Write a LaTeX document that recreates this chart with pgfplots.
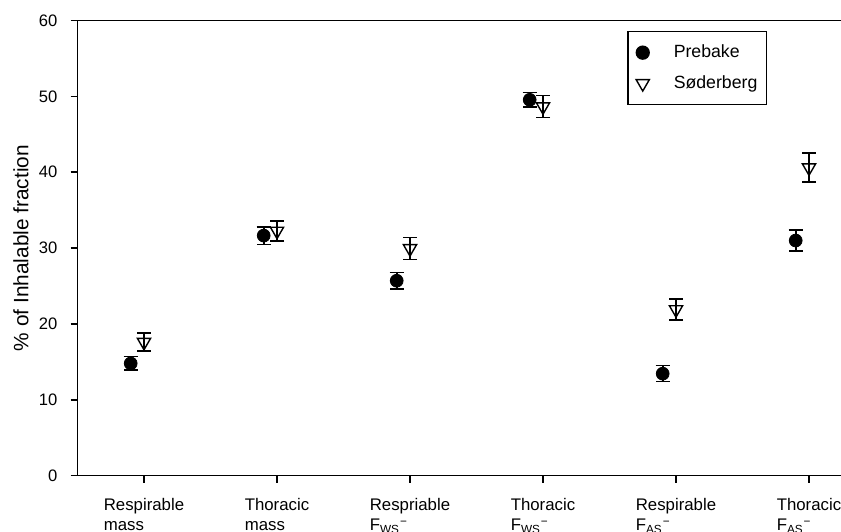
\documentclass[border=0pt]{standalone}
\usepackage{pgfplots}
\pgfplotsset{compat=1.18}
\usepackage{fontspec}
\setmainfont{Liberation Sans}

\pgfplotsset{
  markonly legend/.style={legend image code/.code={\path[draw=none,fill=none] (0pt,-3pt) rectangle (10pt,3pt); \draw[##1] plot coordinates {(5pt,0pt)};}}
}

\pgfplotstableread{
x y e
-0.1 14.8 0.9
0.9 31.65 1.15
1.9 25.7 1.1
2.9 49.55 0.95
3.9 13.45 1.05
4.9 31.0 1.4
}\prebake
\pgfplotstableread{
x y e
0 17.6 1.2
1 32.25 1.35
2 29.95 1.45
3 48.65 1.45
4 21.9 1.4
5 40.6 1.9
}\soder

\begin{document}
\begin{tikzpicture}
\useasboundingbox (0,0) rectangle (420.5pt,265.5pt);
\begin{axis}[
  at={(38.75pt,27.65pt)}, anchor=south west,
  scale only axis, width=399pt, height=227.6pt,
  xmin=-0.5, xmax=5.5, ymin=0, ymax=60,
  xtick={0,1,2,3,4,5},
  xticklabels={{Respirable\\mass},{Thoracic\\mass},{Respriable\\F\textsubscript{WS}\textsuperscript{−}},{Thoracic\\F\textsubscript{WS}\textsuperscript{−}},{Respirable\\F\textsubscript{AS}\textsuperscript{−}},{Thoracic\\F\textsubscript{AS}\textsuperscript{−}}},
  ytick={0,10,20,30,40,50,60},
  xtick pos=bottom, ytick pos=left, tick align=outside,
  major tick length=3.5pt,
  axis line style={line width=0.75pt},
  every tick/.style={black, line width=0.75pt},
  /pgf/number format/assume math mode=true,
  xticklabel style={align=left, font=\fontsize{8.4}{10}\selectfont, yshift=-4.5pt},
  yticklabel style={font=\fontsize{8.3}{9}\selectfont, xshift=-3pt},
  ylabel={\% of Inhalable fraction},
  ylabel style={font=\fontsize{10.4}{12}\selectfont, at={(axis description cs:-0.0708,0.5)}, anchor=center},
  legend style={at={(0.6886,0.977)}, anchor=north west, draw=black, line width=0.75pt,
    font=\fontsize{8.85}{10.5}\selectfont, inner xsep=2.5pt, inner ysep=4.5pt, row sep=3.5pt,
    cells={anchor=west}, column sep=8.5pt},
  error bars/error bar style={line width=0.8pt, black},
]
\addplot[only marks, mark=*, mark size=3.2pt, black, markonly legend,
  error bars/.cd, y dir=both, y explicit, error mark options={rotate=90, mark size=3.5pt, line width=0.8pt, black}]
  table[x=x, y=y, y error=e] {\prebake};
\addlegendentry{Prebake}
\addplot[only marks, mark=triangle, mark size=3.8pt, black, mark options={rotate=180, line width=0.7pt, fill=white}, markonly legend,
  error bars/.cd, y dir=both, y explicit, error mark options={rotate=90, mark size=3.5pt, line width=0.8pt, black}]
  table[x=x, y=y, y error=e] {\soder};
\addlegendentry{Søderberg}
\end{axis}
\end{tikzpicture}
\end{document}
